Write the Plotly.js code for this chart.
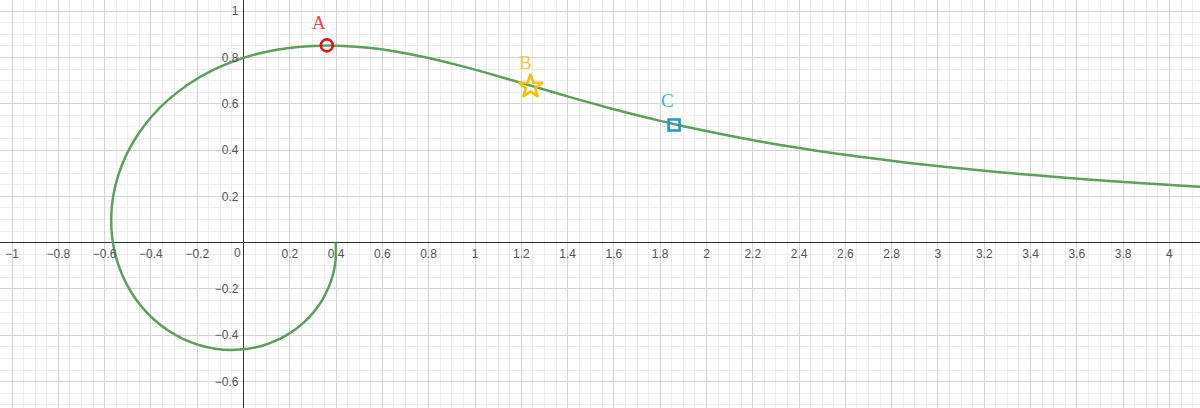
<!DOCTYPE html>
<html>
<head>
<meta charset="utf-8">
<script src="https://cdn.plot.ly/plotly-3.0.1.min.js"></script>
<style>
html,body{margin:0;padding:0;background:#fff;}
#chart{width:1200px;height:408px;}
</style>
</head>
<body>
<div id="chart"></div>
<script>
// Curve points (spiral, far right end -> inner end)
var curveX = [4.2575, 4.0752, 3.7704, 3.5242, 3.3198, 3.1465, 2.8660, 2.6465, 2.4681, 2.3189,
  2.1915, 2.0302, 1.8952, 1.7442, 1.5878, 1.4563, 1.3423, 1.2411, 1.0655, 0.91416,
  0.77894, 0.65524, 0.54030, 0.43249, 0.33079, 0.23461, 0.14365, 0.05776, -0.02308, -0.13474,
  -0.23454, -0.32208, -0.39677, -0.45840, -0.50669, -0.54156, -0.56309, -0.57157, -0.56748, -0.55145,
  -0.52432, -0.48710, -0.44091, -0.38703, -0.32682, -0.26174, -0.19328, -0.12296, -0.05229, 0.01725,
  0.08426, 0.14740, 0.20546, 0.25736, 0.30218, 0.33915, 0.36769, 0.38742, 0.39811, 0.39894];
var curveY = [0.23440, 0.24480, 0.26436, 0.28254, 0.29960, 0.31570, 0.34558, 0.37294, 0.39830, 0.42198,
  0.44424, 0.47537, 0.50418, 0.53954, 0.57960, 0.61572, 0.64841, 0.67801, 0.72895, 0.76999,
  0.80203, 0.82570, 0.84147, 0.84973, 0.85083, 0.84510, 0.83286, 0.81445, 0.79023, 0.74382,
  0.68652, 0.61973, 0.54509, 0.46411, 0.37851, 0.28997, 0.20019, 0.11087, 0.02362, -0.06002,
  -0.13859, -0.21079, -0.27545, -0.33159, -0.37840, -0.41528, -0.44181, -0.45782, -0.46331, -0.45851,
  -0.44383, -0.41987, -0.38742, -0.34739, -0.30084, -0.24894, -0.19292, -0.13408, -0.07376, 0.0];

// Labelled points
var pointNames = ['A', 'B', 'C'];
var pointX = [0.36, 1.24, 1.86];
var pointY = [0.852, 0.674, 0.508];

// Tick values / labels
var xTickVals = [-1, -0.8, -0.6, -0.4, -0.2, 0.2, 0.4, 0.6, 0.8, 1, 1.2, 1.4, 1.6, 1.8, 2, 2.2, 2.4, 2.6, 2.8, 3, 3.2, 3.4, 3.6, 3.8, 4];
var xTickText = ['\u22121', '\u22120.8', '\u22120.6', '\u22120.4', '\u22120.2', '0.2', '0.4', '0.6', '0.8', '1', '1.2', '1.4', '1.6', '1.8', '2', '2.2', '2.4', '2.6', '2.8', '3', '3.2', '3.4', '3.6', '3.8', '4'];
var yTickVals = [-0.6, -0.4, -0.2, 0.2, 0.4, 0.6, 0.8, 1];
var yTickText = ['\u22120.6', '\u22120.4', '\u22120.2', '0.2', '0.4', '0.6', '0.8', '1'];

var xRange = [-1.052, 4.132];
var yRange = [-0.714, 1.048];

var styles = [
  {symbol: 'circle-open', size: 12, color: '#e3121b', text: '#f0454a'},
  {symbol: 'star-open', size: 18, color: '#f7c10c', text: '#f7c840'},
  {symbol: 'square-open', size: 11, color: '#1a9ad6', text: '#45b0e6'}
];

var traces = [{
  x: curveX, y: curveY, type: 'scatter', mode: 'lines',
  line: {color: '#5e9e5e', width: 2.5, shape: 'spline', smoothing: 0.6},
  hoverinfo: 'skip'
}];
var annotations = [];
for (var i = 0; i < pointNames.length; i++) {
  traces.push({
    x: [pointX[i]], y: [pointY[i]], type: 'scatter', mode: 'markers',
    marker: {symbol: styles[i].symbol, size: styles[i].size, color: styles[i].color,
             line: {color: styles[i].color, width: 2.6}},
    hoverinfo: 'skip'
  });
}
var labelShift = [[-8, 23], [-5, 24], [-7, 25]];
for (var j = 0; j < pointNames.length; j++) {
  annotations.push({
    x: pointX[j], y: pointY[j], xref: 'x', yref: 'y', text: pointNames[j], showarrow: false,
    xshift: labelShift[j][0], yshift: labelShift[j][1],
    font: {family: 'Liberation Serif, DejaVu Serif, serif', size: 19, color: styles[j].text}
  });
}
annotations.push({
  x: 0, y: 0, xref: 'x', yref: 'y', text: '0', showarrow: false,
  xshift: -6.5, yshift: -10,
  font: {family: 'Liberation Sans, Arial, sans-serif', size: 12, color: '#555'}
});

var layout = {
  width: 1200, height: 408,
  margin: {l: 0, r: 0, t: 0, b: 0, pad: 0},
  paper_bgcolor: '#fff', plot_bgcolor: '#fff',
  showlegend: false,
  font: {family: 'Liberation Sans, Arial, sans-serif', size: 12, color: '#555'},
  xaxis: {
    range: xRange, fixedrange: true,
    tickmode: 'array', tickvals: xTickVals, ticktext: xTickText,
    showgrid: true, gridcolor: '#d5d5d5', gridwidth: 1,
    zeroline: true, zerolinecolor: '#333', zerolinewidth: 1.5,
    minor: {tickmode: 'linear', tick0: 0, dtick: 0.05, showgrid: true, gridcolor: '#eeeeee', gridwidth: 1},
    anchor: 'free', position: (0 - yRange[0]) / (yRange[1] - yRange[0]),
    ticks: '', showline: false, ticklabelstandoff: 2,
    tickfont: {size: 12, color: '#555'}
  },
  yaxis: {
    range: yRange, fixedrange: true,
    tickmode: 'array', tickvals: yTickVals, ticktext: yTickText,
    showgrid: true, gridcolor: '#d5d5d5', gridwidth: 1,
    zeroline: true, zerolinecolor: '#333', zerolinewidth: 1.5,
    minor: {tickmode: 'linear', tick0: 0, dtick: 0.05, showgrid: true, gridcolor: '#eeeeee', gridwidth: 1},
    anchor: 'free', position: (0 - xRange[0]) / (xRange[1] - xRange[0]),
    ticks: '', showline: false, ticklabelstandoff: 5,
    tickfont: {size: 12, color: '#555'}
  },
  annotations: annotations
};

Plotly.newPlot('chart', traces, layout, {displayModeBar: false, staticPlot: true});
</script>
</body>
</html>
